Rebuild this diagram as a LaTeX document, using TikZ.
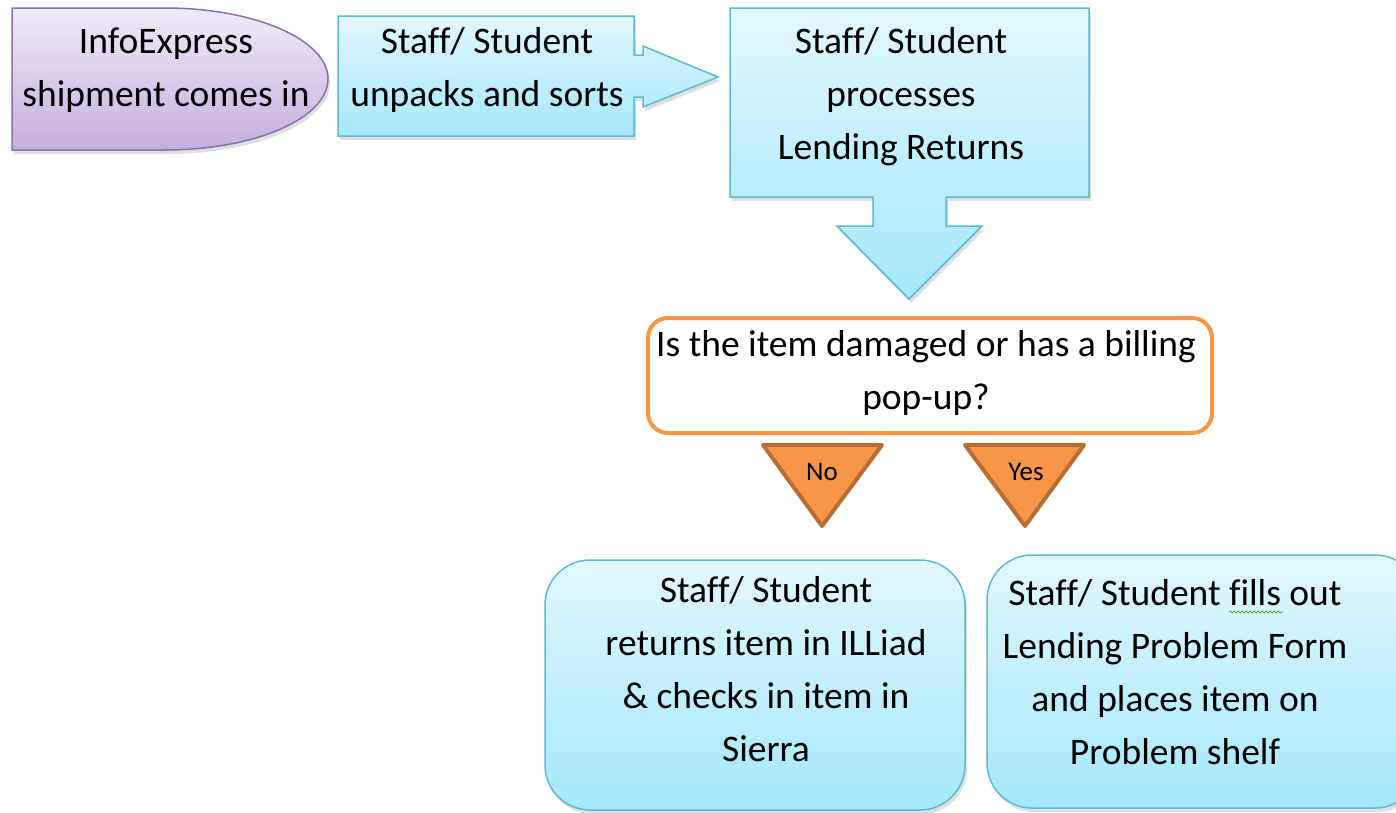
\documentclass[tikz,border=0pt]{standalone}
\usepackage{fontspec}
\setmainfont{Carlito}[Ligatures=NoCommon]
\usetikzlibrary{shadows,decorations.pathmorphing}
\definecolor{bluetop}{HTML}{E2F7FD}
\definecolor{bluebot}{HTML}{A4E8FC}
\definecolor{blueline}{HTML}{5DB9D5}
\definecolor{purptop}{HTML}{F1EBF8}
\definecolor{purpbot}{HTML}{C5AEDD}
\definecolor{purpline}{HTML}{8C70AE}
\definecolor{orfill}{HTML}{F79646}
\definecolor{orline}{HTML}{B96C33}
\definecolor{squig}{HTML}{5AAE3A}
\tikzset{
  bluebox/.style={draw=blueline, line width=1.5pt, top color=bluetop, bottom color=bluebot, line join=miter,
    drop shadow={shadow xshift=2pt, shadow yshift=-4pt, opacity=0.25}},
  purpbox/.style={draw=purpline, line width=1.5pt, top color=purptop, bottom color=purpbot,
    drop shadow={shadow xshift=2pt, shadow yshift=-4pt, opacity=0.25}},
  decbox/.style={draw=orfill, line width=4pt, fill=white, rounded corners=20pt},
  tri/.style={draw=orline, fill=orfill, line width=4pt, line join=round},
  txt/.style={align=center, inner sep=0pt, font=\fontsize{37.5}{53}\selectfont},
  smalltxt/.style={inner sep=0pt, font=\fontsize{27}{30}\selectfont}
}
\begin{document}
\begin{tikzpicture}[x=1pt,y=-1pt]
\useasboundingbox (0,0) rectangle (1396,812);
% start shape
\path[purpbox] (12,8) -- (165,8) .. controls (255,8) and (328,39.8) .. (328,79)
  .. controls (328,118.2) and (255,150) .. (165,150) -- (12,150) -- cycle;
\node[txt] (start) at (166,70) {InfoExpress\\shipment comes in};
% unpack box with right arrow
\path[bluebox] (338,16) -- (634,16) -- (634,55) -- (643,55) -- (643,46) -- (718,77)
  -- (643,107) -- (643,97) -- (634,97) -- (634,136) -- (338,136) -- cycle;
\node[txt] (unpack) at (487,70) {Staff/ Student\\unpacks and sorts};
% process box with down arrow
\path[bluebox] (730,8) -- (1089,8) -- (1089,197) -- (946,197) -- (946,226) -- (982,226)
  -- (909,299) -- (837,226) -- (873,226) -- (873,197) -- (730,197) -- cycle;
\node[txt] (process) at (901,97) {Staff/ Student\\processes\\Lending Returns};
% decision
\draw[decbox] (648,318) rectangle (1212,433);
\node[txt] (decision) at (926,373) {Is the item damaged or has a billing\\pop-up?};
% triangles
\draw[tri] (763,445) -- (882,445) -- (822,526) -- cycle;
\node[smalltxt] (no) at (822,472) {No};
\draw[tri] (965,445) -- (1084,445) -- (1025,526) -- cycle;
\node[smalltxt] (yes) at (1026,472) {Yes};
% bottom boxes
\draw[bluebox, rounded corners=45pt] (545,560) rectangle (965,810);
\node[txt] (ret) at (766,669) {Staff/ Student\\returns item in ILLiad\\\& checks in item in\\Sierra};
\draw[bluebox, rounded corners=45pt] (987,555) rectangle (1420,808);
\node[txt] (prob) at (1175,672) {Staff/ Student fills out\\Lending Problem Form\\and places item on\\Problem shelf};
\draw[squig, line width=0.8pt, decorate, decoration={snake, segment length=4pt, amplitude=1pt}] (1229,612) -- (1283,612);
\end{tikzpicture}
\end{document}
